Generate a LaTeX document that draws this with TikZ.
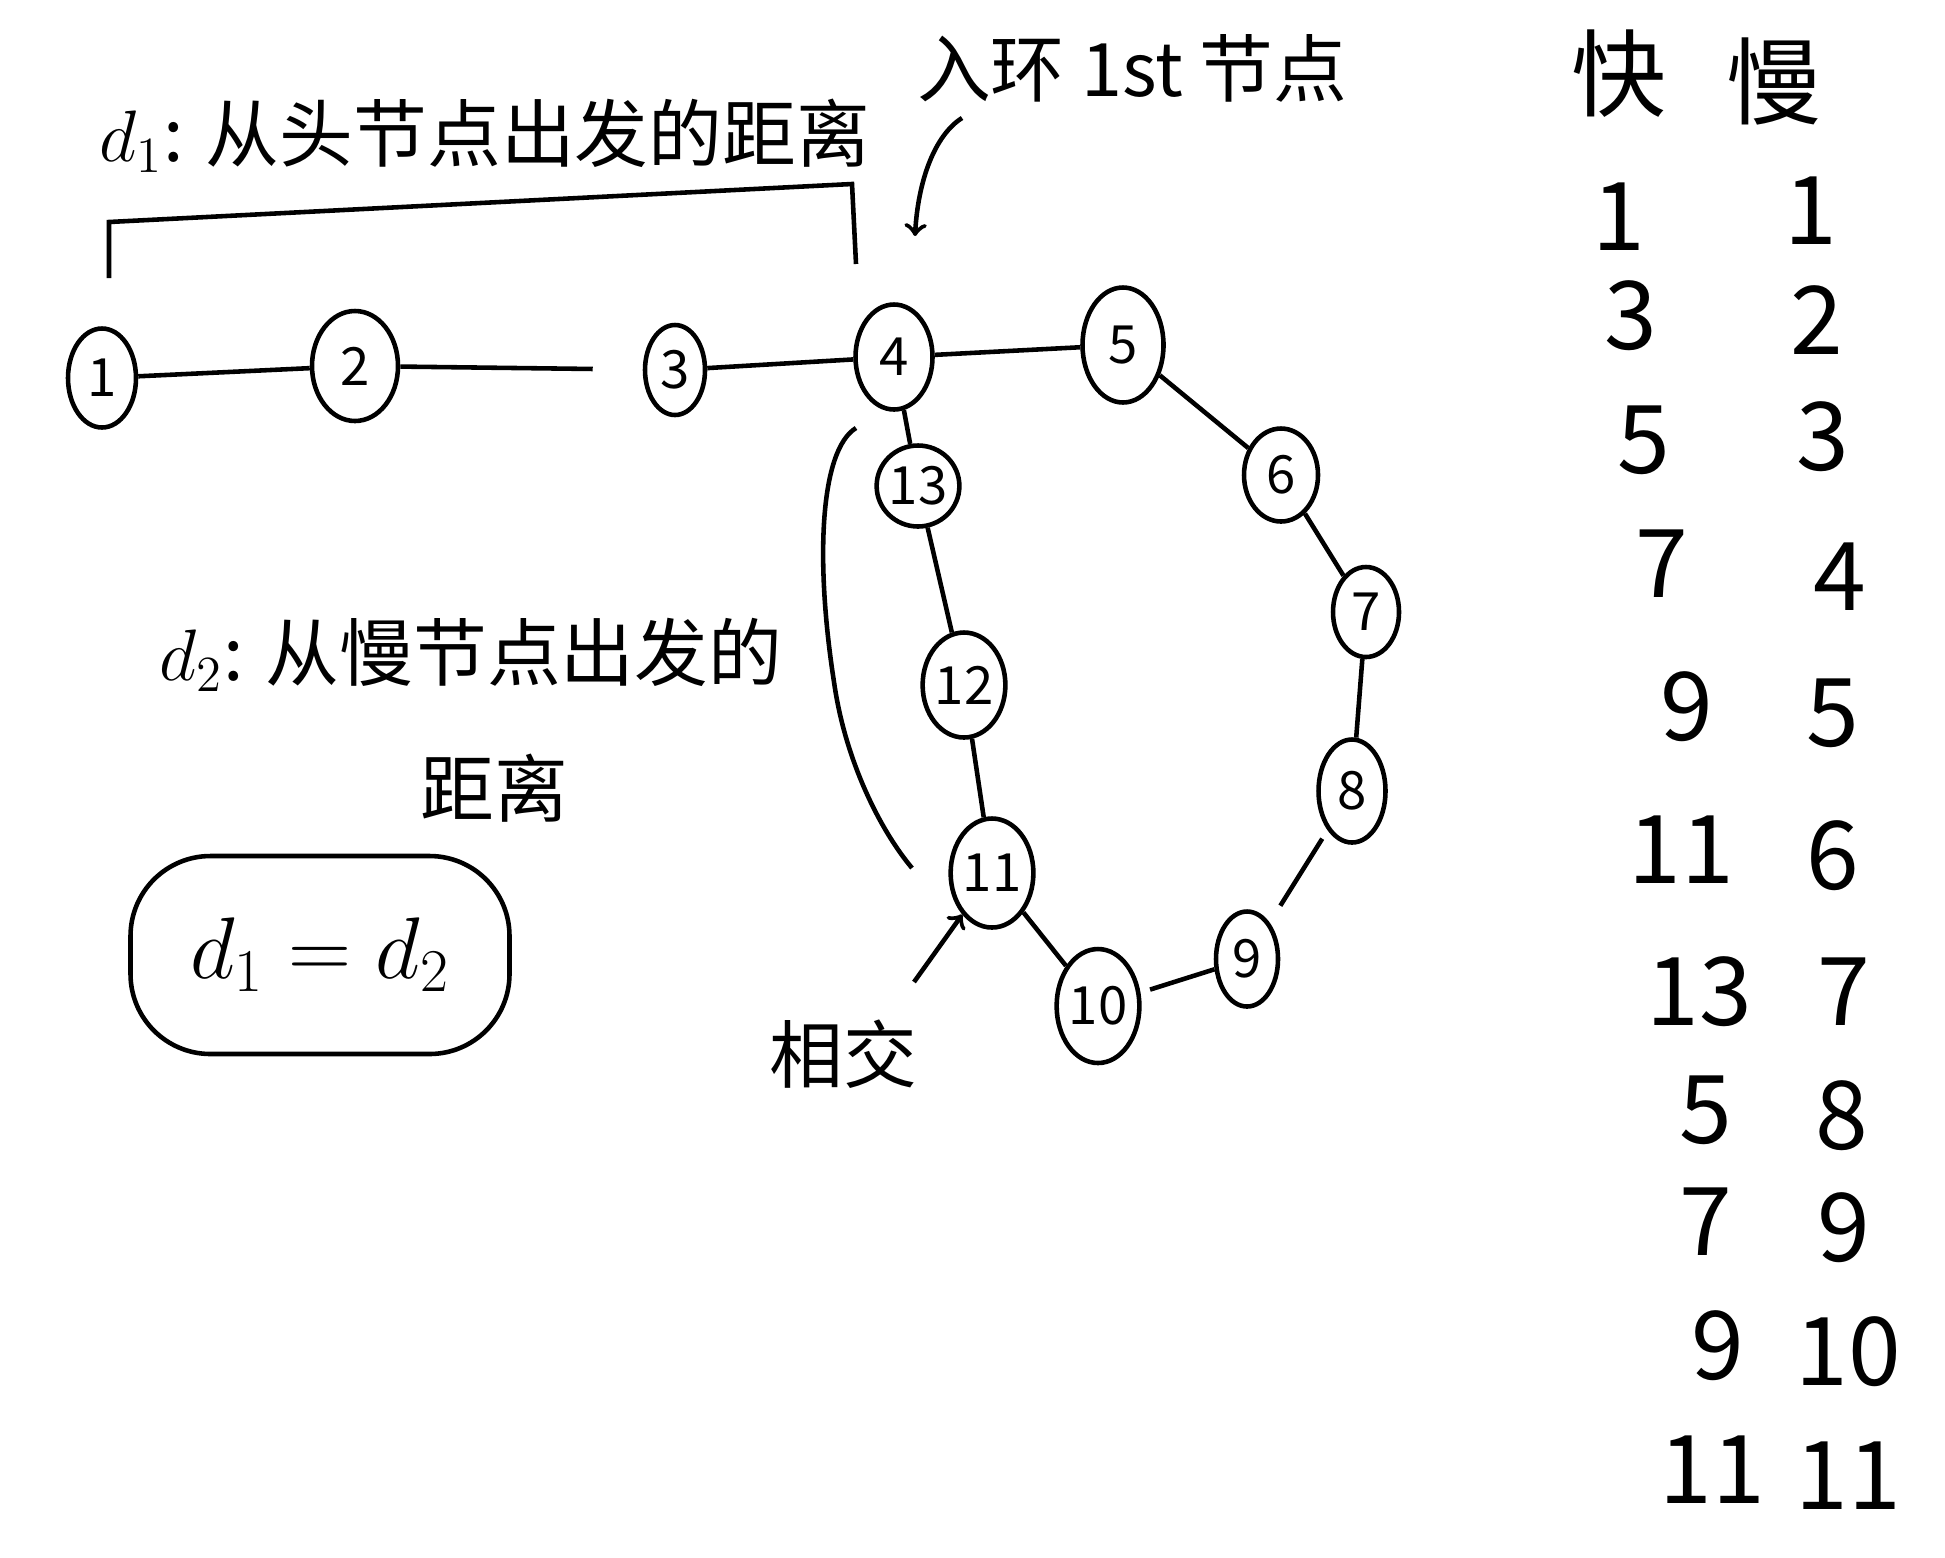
\documentclass[tikz,border=0pt]{standalone}
\usepackage{fontspec}
\setmainfont{Noto Sans CJK SC}
\usetikzlibrary{shapes.geometric}

\tikzset{
  lnode/.style 2 args={ellipse, draw, inner sep=0pt, minimum width=#1, minimum height=#2, font=\fontsize{15}{18}\selectfont},
  hand/.style={font=\fontsize{21}{25}\selectfont},
  tab/.style={font=\fontsize{27}{30}\selectfont},
}

\begin{document}
\begin{tikzpicture}[x=0.1mm, y=-0.1mm, line width=1.3pt]
    \useasboundingbox (0,0) rectangle (1945,1557);
    % the list and the cycle
    \node[lnode={6.8mm}{9.9mm}] (n1) at (102,378) {1};
    \node[lnode={8.6mm}{11mm}] (n2) at (355,366) {2};
    \node[lnode={6mm}{9mm}] (n3) at (675,370) {3};
    \node[lnode={7.7mm}{10.5mm}] (n4) at (894,357) {4};
    \node[lnode={8.1mm}{11.5mm}] (n5) at (1123,345) {5};
    \node[lnode={7.4mm}{9.3mm}] (n6) at (1281,475) {6};
    \node[lnode={6.6mm}{9mm}] (n7) at (1366,612) {7};
    \node[lnode={6.7mm}{10.3mm}] (n8) at (1352,791) {8};
    \node[lnode={6.2mm}{9.5mm}] (n9) at (1247,959) {9};
    \node[lnode={6.7mm}{11.4mm}] (n10) at (1098,1006) {10};
    \node[lnode={7.4mm}{10.9mm}] (n11) at (992,873) {11};
    \node[lnode={5.8mm}{10.5mm}] (n12) at (964,685) {12};
    \node[lnode={5.2mm}{8.1mm}] (n13) at (918,486) {13};
    \draw (n1) -- (n2);
    \draw[shorten >=5mm] (n2) -- (n3);
    \draw (n3) -- (n4);
    \draw (n4) -- (n5);
    \draw (n5) -- (n6);
    \draw (n6) -- (n7);
    \draw (n7) -- (n8);
    \draw[shorten <=1mm, shorten >=2mm] (n8) -- (n9);
    \draw[shorten >=1mm] (n9) -- (n10);
    \draw (n10) -- (n11);
    \draw (n11) -- (n12);
    \draw (n12) -- (n13);
    \draw (n13) -- (n4);
    % d1
    \draw (109,278) -- (109,222) -- (852,184) -- (856,264);
    \node[hand] (d1) at (485,136) {$d_1$: 从头节点出发的距离};
    % first node in the cycle
    \node[hand] (first) at (1132,68) {入环 1st 节点};
    \coordinate (firstA) at (962,118);
    \coordinate (firstB) at (915,236);
    \draw[->] (firstA) .. controls (935,135) and (918,180) .. (firstB);
    % d2
    \draw (856,428) .. controls (820,450) and (815,560) .. (834,682)
        .. controls (845,760) and (880,830) .. (912,868);
    \node[hand] (d2) at (471,655) {$d_2$: 从慢节点出发的};
    \node[hand] (d2b) at (494,788) {距离};
    \node[draw, rounded corners=8mm, minimum width=37.9mm, minimum height=19.8mm,
        font=\fontsize{25}{30}\selectfont] (eq) at (320,955) {$d_1 = d_2$};
    % meet
    \node[hand] (meet) at (843,1054) {相交};
    \coordinate (meetA) at (914,982);
    \draw[->] (meetA) -- (n11);
    % fast / slow
    \node[tab] (fast) at (1619,74) {快};
    \node[tab] (slow) at (1774,81) {慢};
    \node[tab] (f1) at (1619,217) {1};
    \node[tab] (f2) at (1631,316) {3};
    \node[tab] (f3) at (1644,440) {5};
    \node[tab] (f4) at (1662,564) {7};
    \node[tab] (f5) at (1687,707) {9};
    \node[tab] (f6) at (1681,850) {11};
    \node[tab] (f7) at (1699,992) {13};
    \node[tab] (f8) at (1706,1110) {5};
    \node[tab] (f9) at (1706,1222) {7};
    \node[tab] (f10) at (1718,1346) {9};
    \node[tab] (f11) at (1712,1470) {11};
    \node[tab] (s1) at (1811,211) {1};
    \node[tab] (s2) at (1817,320) {2};
    \node[tab] (s3) at (1823,437) {3};
    \node[tab] (s4) at (1840,577) {4};
    \node[tab] (s5) at (1833,713) {5};
    \node[tab] (s6) at (1833,856) {6};
    \node[tab] (s7) at (1844,992) {7};
    \node[tab] (s8) at (1842,1116) {8};
    \node[tab] (s9) at (1844,1228) {9};
    \node[tab] (s10) at (1848,1352) {10};
    \node[tab] (s11) at (1848,1476) {11};
\end{tikzpicture}
\end{document}
